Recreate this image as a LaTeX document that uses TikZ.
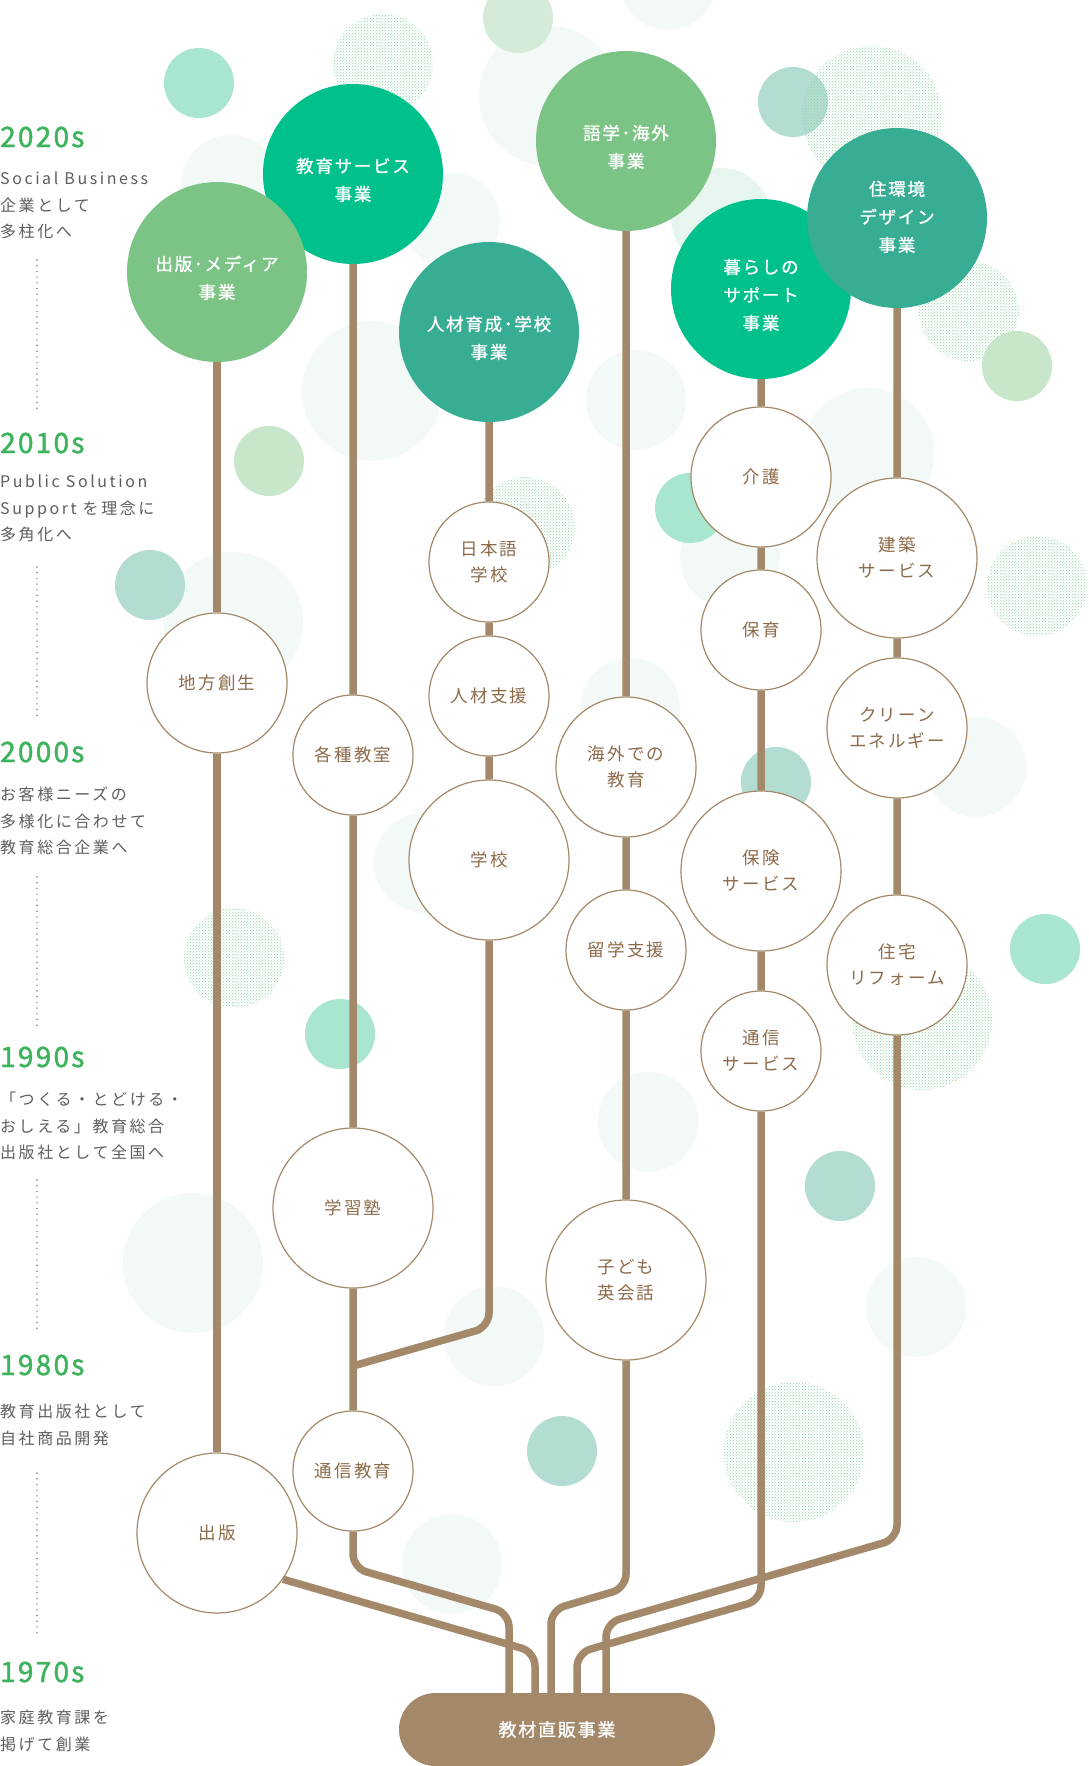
\documentclass[tikz,border=0pt]{standalone}
\usepackage{fontspec}
\setmainfont{Noto Sans CJK JP}
\newfontfamily\descfont[LetterSpace=16]{Noto Sans CJK JP}
\newfontfamily\yearfont[LetterSpace=8,FakeBold=1.6]{Noto Sans CJK JP}
\newfontfamily\labelfont[LetterSpace=12]{Noto Sans CJK JP}
\newfontfamily\leaffont[LetterSpace=10,FakeBold=1.1]{Noto Sans CJK JP}
\usetikzlibrary{patterns,backgrounds}
\pgfdeclarelayer{deco}
\pgfsetlayers{deco,background,main}

\definecolor{trunk}{HTML}{A3896A}
\definecolor{bark}{HTML}{8C6B4A}
\definecolor{yeargreen}{HTML}{3DB35C}
\definecolor{descgray}{HTML}{5E5E5E}
\definecolor{leaflight}{HTML}{7CC386}
\definecolor{leafemer}{HTML}{00C08B}
\definecolor{leafteal}{HTML}{37AD94}
\definecolor{mint}{HTML}{A8E6CF}
\definecolor{sage}{HTML}{B3DDD2}
\definecolor{moss}{HTML}{C8E6C9}
\definecolor{mossfade}{HTML}{D4EBD7}
\definecolor{haze}{HTML}{F2F9F6}
\definecolor{hazegreen}{HTML}{E6F5EE}
\definecolor{dotgreen}{HTML}{8ED2A0}

% leaf text sits a little below the centre of its circle
\newcommand{\leaflabel}[2][14pt]{\raisebox{0pt}[\dimexpr\height+#1\relax][\depth]{\begin{tabular}{@{}c@{}}#2\end{tabular}}}

\begin{document}
\begin{tikzpicture}[x=1pt, y=-1pt,
    top node/.style={circle, fill=#1, minimum size=180pt, inner sep=0pt,
                     text=white, font=\leaffont\fontsize{17.5}{28}\selectfont},
    main node/.style={circle, draw=trunk, line width=1.2pt, fill=white, minimum size=#1,
                      inner sep=0pt, align=center, text=bark, font=\labelfont\fontsize{17.5}{26}\selectfont},
    pill/.style={rectangle, rounded corners=36.5pt, fill=trunk, minimum width=316pt, minimum height=73pt,
                 text=white, font=\leaffont\fontsize{18}{20}\selectfont},
    trunk line/.style={draw=trunk, line width=7.5pt, rounded corners=14pt},
    dot circle/.style={pattern=crosshatch dots, pattern color=dotgreen},
    year/.style={anchor=base west, inner sep=0pt, text=yeargreen, font=\yearfont\fontsize{28}{30}\selectfont},
    era text/.style={anchor=north west, inner sep=0pt, align=left, text=descgray,
                     font=\descfont\fontsize{16}{26.5}\selectfont},
    era dots/.style={draw=descgray!80, line width=1.6pt, line cap=round, dash pattern=on 0pt off 5.7pt}]

  \useasboundingbox (0,0) rectangle (1088,1766);
  \clip (0,0) rectangle (1088,1766);

  % years
  \node[year] (y1) at (0,147) {2020s};
  \node[era text] (d1) at (0,172) {Social Business\\企業として\\多柱化へ};
  \node[year] (y2) at (0,453) {2010s};
  \node[era text] (d2) at (0,475) {Public Solution\\Support を理念に\\多角化へ};
  \node[year] (y3) at (0,762) {2000s};
  \node[era text] (d3) at (0,787) {お客様ニーズの\\多様化に合わせて\\教育総合企業へ};
  \node[year] (y4) at (0,1067) {1990s};
  \node[era text] (d4) at (0,1092) {「つくる・とどける・\\おしえる」教育総合\\出版社として全国へ};
  \node[year] (y5) at (0,1375) {1980s};
  \node[era text] (d5) at (0,1404) {教育出版社として\\自社商品開発};
  \node[year] (y6) at (0,1682) {1970s};
  \node[era text] (d6) at (0,1710) {家庭教育課を\\掲げて創業};

  \draw[era dots] (37,260) -- (37,412);
  \draw[era dots] (37,567) -- (37,717);
  \draw[era dots] (37,877) -- (37,1027);
  \draw[era dots] (37,1180) -- (37,1333);
  \draw[era dots] (37,1473) -- (37,1635);

  % leaves
  \node[top node=leafemer] (2) at (353,174) {\leaflabel{教育サービス\\事業}};
  \node[top node=leaflight] (1) at (217,272) {\leaflabel{出版･メディア\\事業}};
  \node[top node=leafteal] (3) at (489,332) {\leaflabel{人材育成･学校\\事業}};
  \node[top node=leaflight] (4) at (626,141) {\leaflabel{語学･海外\\事業}};
  \node[top node=leafemer] (5) at (761,289) {\leaflabel{暮らしの\\サポート\\事業}};
  \node[top node=leafteal] (6) at (897,218) {\leaflabel[0pt]{住環境\\デザイン\\事業}};

  \node[main node=140pt] (7) at (217,683) {地方創生};
  \node[main node=160pt] (8) at (217,1533) {出版};
  \node[main node=120pt] (9) at (353,755) {各種教室};
  \node[main node=160pt] (10) at (353,1208) {学習塾};
  \node[main node=120pt] (11) at (353,1471) {通信教育};
  \node[main node=120pt] (12) at (489,562) {日本語\\学校};
  \node[main node=120pt] (13) at (489,696) {人材支援};
  \node[main node=160pt] (14) at (489,860) {学校};
  \node[main node=140pt] (15) at (626,767) {海外での\\教育};
  \node[main node=120pt] (16) at (626,950) {留学支援};
  \node[main node=160pt] (17) at (626,1280) {子ども\\英会話};
  \node[main node=140pt] (18) at (761,477) {介護};
  \node[main node=120pt] (19) at (761,630) {保育};
  \node[main node=160pt] (20) at (761,871) {保険\\サービス};
  \node[main node=120pt] (21) at (761,1051) {通信\\サービス};
  \node[main node=160pt] (22) at (897,558) {建築\\サービス};
  \node[main node=140pt] (23) at (897,728) {クリーン\\エネルギー};
  \node[main node=140pt] (24) at (897,965) {住宅\\リフォーム};

  \node[pill] (25) at (557,1729.5) {教材直販事業};

  % bends of the roots
  \coordinate (a1) at (535,1652);
  \coordinate (b1) at (353,1568);
  \coordinate (b2) at (509,1613);
  \coordinate (c1) at (489,1327);
  \coordinate (c2) at (353,1366);
  \coordinate (e1) at (626,1588);
  \coordinate (e2) at (551,1610);
  \coordinate (f1) at (761,1600);
  \coordinate (f2) at (577,1653);
  \coordinate (g1) at (897,1539);
  \coordinate (g2) at (606,1623);

  \begin{pgfonlayer}{background}
    \draw[trunk line] (1) -- (7) -- (8);
    \draw[trunk line] (8.-35) -- (a1) -- (a1 |- 25.center);
    \draw[trunk line] (2) -- (9) -- (10) -- (11) -- (b1) -- (b2) -- (b2 |- 25.center);
    \draw[trunk line] (3) -- (12) -- (13) -- (14) -- (c1) -- (c2);
    \draw[trunk line] (4) -- (15) -- (16) -- (17) -- (e1) -- (e2) -- (e2 |- 25.center);
    \draw[trunk line] (5) -- (18) -- (19) -- (20) -- (21) -- (f1) -- (f2) -- (f2 |- 25.center);
    \draw[trunk line] (6) -- (22) -- (23) -- (24) -- (g1) -- (g2) -- (g2 |- 25.center);
  \end{pgfonlayer}

  % background bubbles
  \begin{pgfonlayer}{deco}
    \fill[white] (0,0) rectangle (1088,1766);
    \fill[haze] (231,185) circle (50pt) (452,221) circle (48pt) (549,96) circle (70pt)
      (668,-18) circle (48pt) (372,391) circle (70pt) (233,622) circle (70pt)
      (636,400) circle (50pt) (868,454) circle (66pt) (730,558) circle (50pt)
      (630,708) circle (50pt) (976,767) circle (50pt) (424,863) circle (50pt)
      (193,1263) circle (70pt) (494,1336) circle (50pt) (648,1122) circle (50pt)
      (916,1307) circle (50pt) (452,1564) circle (50pt);
    \fill[hazegreen] (721,218) circle (50pt);
    \fill[mint] (199,83) circle (35pt) (690,508) circle (35pt) (340,1034) circle (35pt) (1045,949) circle (35pt);
    \fill[sage] (793,102) circle (35pt) (150,585) circle (35pt) (776,782) circle (35pt)
      (840,1186) circle (35pt) (562,1451) circle (35pt);
    \fill[moss] (269,461) circle (35pt);
    \fill[mossfade] (518,18) circle (35pt);
    \fill[dot circle] (383,64) circle (50pt) (872,116) circle (70pt) (969,311) circle (50pt)
      (525,527) circle (50pt) (1037,586) circle (50pt) (234,958) circle (50pt)
      (922,1020) circle (70pt) (794,1452) circle (70pt);
    \fill[moss] (1017,366) circle (35pt);
  \end{pgfonlayer}

\end{tikzpicture}
\end{document}
